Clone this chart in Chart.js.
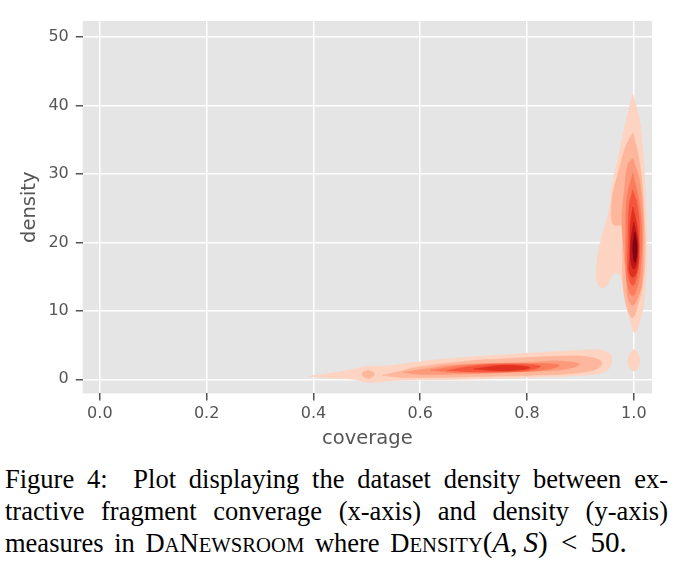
<!DOCTYPE html>
<html>
<head>
<meta charset="utf-8">
<script src="https://cdn.jsdelivr.net/npm/chart.js@4/dist/chart.umd.min.js"></script>
<style>
  body { margin: 0; background: #fff; width: 680px; height: 563px; overflow: hidden; }
  #plot { display: block; }
  .caption { font-family: "Liberation Serif", serif; font-size: 26.5px; color: #000; margin-left: 5px; width: 663px; line-height: 31.5px; margin-top: 9px; }
  .caption div { text-align: justify; text-align-last: justify; white-space: nowrap; }
  .caption div.last { text-align: left; text-align-last: left; word-spacing: 4px; }
  .s { font-size: 0.78em; }
  .math { font-size: 1.1em; word-spacing: 0; }
  .math i { font-style: italic; }
  .rel { margin: 0 0.45em; }
</style>
</head>
<body>
<canvas id="plot" width="680" height="455"></canvas>
<div class="caption">
  <div>Figure 4:&nbsp; Plot displaying the dataset density between ex-</div>
  <div>tractive fragment converage (x-axis) and density (y-axis)</div>
  <div class="last">measures in D<span class="s">A</span>N<span class="s">EWSROOM</span> where D<span class="s">ENSITY</span><span class="math">(<i>A</i>,&thinsp;<i>S</i>)<span class="rel">&lt;</span>50.</span></div>
</div>
<script>
var xTicks = [0.0, 0.2, 0.4, 0.6, 0.8, 1.0];
var yTicks = [0, 10, 20, 30, 40, 50];

// Reds, lightest to darkest contour level
var levelColors = ['#fdd3c1', '#fcb79c', '#fc9a7b', '#fb7c5c', '#f5553d', '#e0301f', '#bb141a', '#7f0510'];

// contour outlines as [coverage, density] pairs
// vertical blob at coverage ~ 1.0
var tall1 = [[0.998,41.7],[1.009,38.5],[1.017,33.3],[1.022,26.0],[1.024,18.6],[1.021,12.7],[1.013,9.0],[1.002,6.8],[0.993,8.6],[0.983,11.9],[0.976,14.9],[0.964,15.6],[0.946,13.4],[0.933,13.9],[0.931,17.1],[0.940,20.8],[0.953,24.5],[0.961,28.9],[0.974,33.6],[0.989,38.9]];
var tall2 = [[0.998,36.0],[1.007,33.3],[1.015,28.9],[1.019,24.0],[1.021,19.0],[1.017,14.2],[1.007,10.8],[0.998,9.0],[0.989,10.0],[0.983,11.9],[0.979,14.9],[0.979,19.0],[0.978,22.3],[0.961,22.7],[0.959,26.0],[0.964,28.2],[0.974,31.1],[0.985,34.1]];
var tall3 = [[0.998,32.3],[1.006,30.4],[1.011,28.9],[1.017,24.0],[1.017,19.0],[1.015,14.2],[1.007,11.9],[0.998,10.8],[0.989,11.9],[0.987,14.2],[0.981,19.0],[0.978,23.7],[0.983,28.2],[0.989,31.4]];
var tall4 = [[0.998,30.1],[1.009,26.4],[1.015,21.5],[1.013,16.7],[1.006,13.4],[0.998,12.2],[0.989,13.4],[0.985,16.7],[0.985,21.5],[0.987,26.4]];
var tall5 = [[0.998,27.7],[1.007,25.2],[1.011,20.1],[1.007,15.6],[0.998,13.7],[0.989,15.6],[0.989,20.1],[0.991,25.2]];
var tall6 = [[0.998,25.2],[1.006,22.3],[1.009,18.6],[1.006,15.9],[0.998,14.9],[0.991,15.9],[0.993,18.6],[0.993,22.3]];
var tall7 = [[1.000,23.0],[1.007,20.1],[1.006,17.4],[1.000,16.1],[0.994,17.4],[0.994,20.1]];
var tall8 = [[1.002,21.5],[1.006,19.3],[1.002,17.1],[0.998,19.3]];
var dot1 = [[1.000,4.4],[1.007,3.8],[1.011,2.8],[1.009,1.8],[1.000,1.2],[0.991,1.8],[0.989,2.8],[0.993,3.8]];

// long flat blob along density ~ 2
var flat1 = [[0.391,0.44],[0.432,0.88],[0.475,1.47],[0.501,1.92],[0.531,1.92],[0.624,2.80],[0.750,3.54],[0.875,4.13],[0.936,4.28],[0.955,3.69],[0.959,2.65],[0.950,1.33],[0.927,0.74],[0.811,0.29],[0.688,0.0],[0.563,-0.15],[0.501,-0.44],[0.475,0.0],[0.432,0.15]];
var flat2 = [[0.529,0.59],[0.563,1.18],[0.594,1.77],[0.688,2.65],[0.750,2.95],[0.875,3.39],[0.920,3.2],[0.940,2.5],[0.930,1.5],[0.886,0.9],[0.811,0.6],[0.750,0.5],[0.624,0.29],[0.563,0.29]];
var flat3 = [[0.568,1.03],[0.619,1.62],[0.656,2.06],[0.811,2.51],[0.862,2.66],[0.898,2.2],[0.870,1.47],[0.811,1.18],[0.656,0.74],[0.600,0.74]];
var flat4 = [[0.619,1.33],[0.688,2.1],[0.811,2.3],[0.860,2.05],[0.835,1.4],[0.781,1.1],[0.675,0.95]];
var flat5 = [[0.650,1.3],[0.700,1.95],[0.760,2.2],[0.825,1.95],[0.800,1.3],[0.750,1.12],[0.700,1.1]];
var flat6 = [[0.700,1.5],[0.760,2.05],[0.805,1.7],[0.760,1.25]];
var circle2 = [[0.503,1.33],[0.512,1.03],[0.514,0.74],[0.512,0.44],[0.503,0.15],[0.493,0.44],[0.492,0.74],[0.493,1.03]];

var contours = [
  {level: 0, pts: tall1}, {level: 0, pts: dot1}, {level: 0, pts: flat1},
  {level: 1, pts: tall2}, {level: 1, pts: flat2}, {level: 1, pts: circle2},
  {level: 2, pts: tall3}, {level: 2, pts: flat3},
  {level: 3, pts: tall4}, {level: 3, pts: flat4},
  {level: 4, pts: tall5}, {level: 4, pts: flat5},
  {level: 5, pts: tall6}, {level: 5, pts: flat6},
  {level: 6, pts: tall7},
  {level: 7, pts: tall8}
];

var datasets = contours.map(function (c) {
  var pts = c.pts.map(function (p) { return {x: p[0], y: p[1]}; });
  pts.push({x: c.pts[0][0], y: c.pts[0][1]});
  return {
    type: 'line',
    data: pts,
    showLine: true,
    fill: 'shape',
    tension: 0.4,
    pointRadius: 0,
    borderWidth: 0.6,
    borderColor: levelColors[c.level],
    backgroundColor: levelColors[c.level],
    order: 20 - c.level
  };
});

// grey ggplot panel behind the data
var panelBg = {
  id: 'panelBg',
  beforeDraw: function (chart) {
    var a = chart.chartArea, ctx = chart.ctx;
    ctx.save();
    ctx.fillStyle = '#e5e5e5';
    ctx.fillRect(a.left, a.top, a.right - a.left, a.bottom - a.top);
    ctx.restore();
  }
};

var tickFont = {family: 'DejaVu Sans', size: 16};
var titleFont = {family: 'DejaVu Sans', size: 19.5};

new Chart(document.getElementById('plot'), {
  type: 'scatter',
  data: {datasets: datasets},
  plugins: [panelBg],
  options: {
    responsive: false,
    animation: false,
    layout: {padding: {left: 18, right: 28, top: 21, bottom: 4}},
    plugins: {legend: {display: false}, tooltip: {enabled: false}},
    scales: {
      x: {
        min: -0.032, max: 1.034,
        afterBuildTicks: function (s) { s.ticks = xTicks.map(function (v) { return {value: v}; }); },
        ticks: {color: '#555', font: tickFont, padding: 4, maxRotation: 0,
          callback: function (v) { return v.toFixed(1); }},
        grid: {color: '#fff', lineWidth: 1.5, tickColor: '#555', tickLength: 7},
        border: {display: false},
        title: {display: true, text: 'coverage', color: '#555', font: titleFont, padding: {top: 0, bottom: 0}}
      },
      y: {
        min: -2.06, max: 52.36,
        afterBuildTicks: function (s) { s.ticks = yTicks.map(function (v) { return {value: v}; }); },
        ticks: {color: '#555', font: tickFont, padding: 7},
        grid: {color: '#fff', lineWidth: 1.5, tickColor: '#555', tickLength: 7},
        border: {display: false},
        title: {display: true, text: 'density', color: '#555', font: titleFont, padding: {top: 0, bottom: 0}}
      }
    }
  }
});
</script>
</body>
</html>
